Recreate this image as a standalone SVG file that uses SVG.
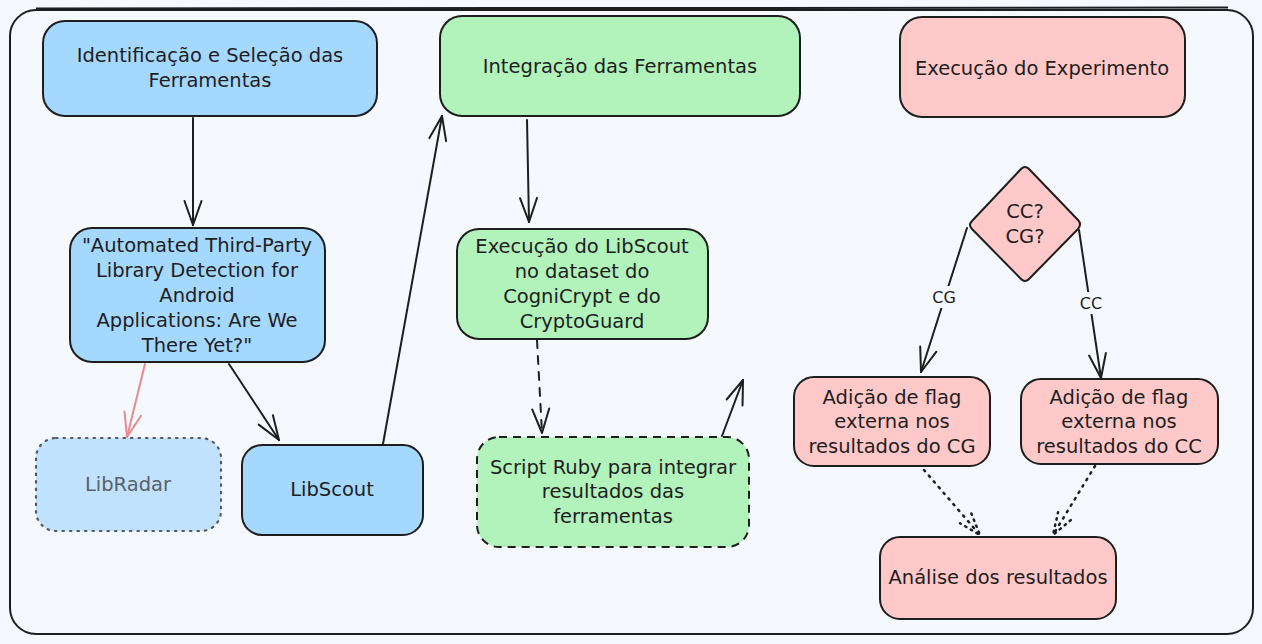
<svg xmlns="http://www.w3.org/2000/svg" width="1262" height="644" viewBox="0 0 1262 644">
<defs>
<marker id="ah" viewBox="-26 -11 28 22" refX="0" refY="0" markerWidth="28" markerHeight="22" markerUnits="userSpaceOnUse" orient="auto">
<path d="M-24,-8.5 L0,0 L-24,8.5" fill="none" stroke="#1e1e1e" stroke-width="2" stroke-linecap="round" stroke-linejoin="round"/>
</marker>
<marker id="ahd" viewBox="-26 -11 28 22" refX="0" refY="0" markerWidth="28" markerHeight="22" markerUnits="userSpaceOnUse" orient="auto">
<path d="M-22,-7.5 L0,0 L-22,7.5" fill="none" stroke="#1e1e1e" stroke-width="2.5" stroke-linecap="round" stroke-dasharray="1.5 5"/>
</marker>
<marker id="ahr" viewBox="-26 -11 28 22" refX="0" refY="0" markerWidth="28" markerHeight="22" markerUnits="userSpaceOnUse" orient="auto">
<path d="M-24,-8.5 L0,0 L-24,8.5" fill="none" stroke="#e98b8b" stroke-width="2" stroke-linecap="round" stroke-linejoin="round"/>
</marker>
</defs>
<style>
text{font-family:"DejaVu Sans","Liberation Sans",sans-serif;font-size:19.5px;fill:#1e1e1e;text-anchor:middle;dominant-baseline:central}
.box{stroke:#1e1e1e;stroke-width:2}
.blue{fill:#a5d8ff}
.green{fill:#b2f2bb}
.red{fill:#ffc9c9}
.conn{fill:none;stroke:#1e1e1e;stroke-width:2;stroke-linecap:round}
.dot{stroke-dasharray:1.5 6;stroke-width:2.5}
.lbl{font-size:16px}
</style>
<rect x="0" y="0" width="1262" height="644" fill="#f5f9fd"/>
<g id="frame">
<rect x="10" y="10" width="1243" height="624" rx="26" fill="#f5f9fd" stroke="#1e1e1e" stroke-width="2"/>
<path d="M36,8.5 L1228,7.5" stroke="#1e1e1e" stroke-width="2" fill="none"/>
</g>

<g id="connectors">
<path class="conn" d="M193,118 L193,225" marker-end="url(#ah)"/>
<path d="M145,364 L127,437" fill="none" stroke="#e98b8b" stroke-width="2" stroke-linecap="round" marker-end="url(#ahr)"/>
<path class="conn" d="M229,364 L279,440" marker-end="url(#ah)"/>
<path class="conn" d="M383,444 L442,116" marker-end="url(#ah)"/>
<path class="conn" d="M527,120 L529,222" marker-end="url(#ah)"/>
<path class="conn" d="M537,340 L542,433" stroke-dasharray="8 8" marker-end="url(#ah)"/>
<path class="conn" d="M722,436 L743,380" marker-end="url(#ah)"/>
<path class="conn" d="M967,228 L921,372" marker-end="url(#ah)"/>
<path class="conn" d="M1079,230 L1101,378" marker-end="url(#ah)"/>
<rect x="928" y="286" width="32" height="22" fill="#f5f9fd"/>
<text class="lbl" x="944" y="297">CG</text>
<rect x="1076" y="292" width="32" height="22" fill="#f5f9fd"/>
<text class="lbl" x="1091" y="303">CC</text>
<path class="conn dot" d="M924,470 L980,535" marker-end="url(#ahd)"/>
<path class="conn dot" d="M1095,466 L1053,535" marker-end="url(#ahd)"/>
</g>

<g id="n-identificacao">
<rect class="box blue" x="43" y="21" width="334" height="95" rx="22"/>
<text x="210" y="55">Identificação e Seleção das</text>
<text x="210" y="80">Ferramentas</text>
</g>
<g id="n-paper">
<rect class="box blue" x="70" y="228" width="255" height="134" rx="22"/>
<text x="197" y="245">"Automated Third-Party</text>
<text x="197" y="270">Library Detection for</text>
<text x="197" y="295">Android</text>
<text x="197" y="320">Applications: Are We</text>
<text x="197" y="345">There Yet?"</text>
</g>
<g id="n-libradar">
<rect x="36" y="438" width="185" height="93" rx="20" fill="#c0e2ff" stroke="#555a60" stroke-width="2.2" stroke-dasharray="1.5 6" stroke-linecap="round"/>
<text x="128" y="484" style="fill:#5a6068">LibRadar</text>
</g>
<g id="n-libscout">
<rect class="box blue" x="242" y="445" width="181" height="90" rx="20"/>
<text x="332" y="489">LibScout</text>
</g>
<g id="n-integracao">
<rect class="box green" x="440" y="16" width="360" height="100" rx="22"/>
<text x="620" y="66">Integração das Ferramentas</text>
</g>
<g id="n-execlibscout">
<rect class="box green" x="457" y="229" width="251" height="110" rx="22"/>
<text x="582" y="246">Execução do LibScout</text>
<text x="582" y="271">no dataset do</text>
<text x="582" y="296">CogniCrypt e do</text>
<text x="582" y="321">CryptoGuard</text>
</g>
<g id="n-script">
<rect class="box green" x="477" y="437" width="272" height="110" rx="22" stroke-dasharray="8 6"/>
<text x="613" y="467">Script Ruby para integrar</text>
<text x="613" y="491">resultados das</text>
<text x="613" y="516">ferramentas</text>
</g>
<g id="n-experimento">
<rect class="box red" x="900" y="17" width="285" height="100" rx="22"/>
<text x="1042" y="68">Execução do Experimento</text>
</g>
<g id="n-decisao">
<path class="box red" d="M1021,169 Q1025,165 1029,169 L1078,220 Q1082,224 1078,229 L1029,279 Q1025,283 1021,279 L972,229 Q968,225 972,221 Z"/>
<text x="1025" y="211">CC?</text>
<text x="1025" y="236">CG?</text>
</g>
<g id="n-flagcg">
<rect class="box red" x="794" y="377" width="196" height="89" rx="20"/>
<text x="892" y="397">Adição de flag</text>
<text x="892" y="421">externa nos</text>
<text x="892" y="446">resultados do CG</text>
</g>
<g id="n-flagcc">
<rect class="box red" x="1021" y="379" width="197" height="85" rx="20"/>
<text x="1119" y="397">Adição de flag</text>
<text x="1119" y="421">externa nos</text>
<text x="1119" y="446">resultados do CC</text>
</g>
<g id="n-analise">
<rect class="box red" x="880" y="537" width="236" height="82" rx="20"/>
<text x="998" y="577">Análise dos resultados</text>
</g>
</svg>
